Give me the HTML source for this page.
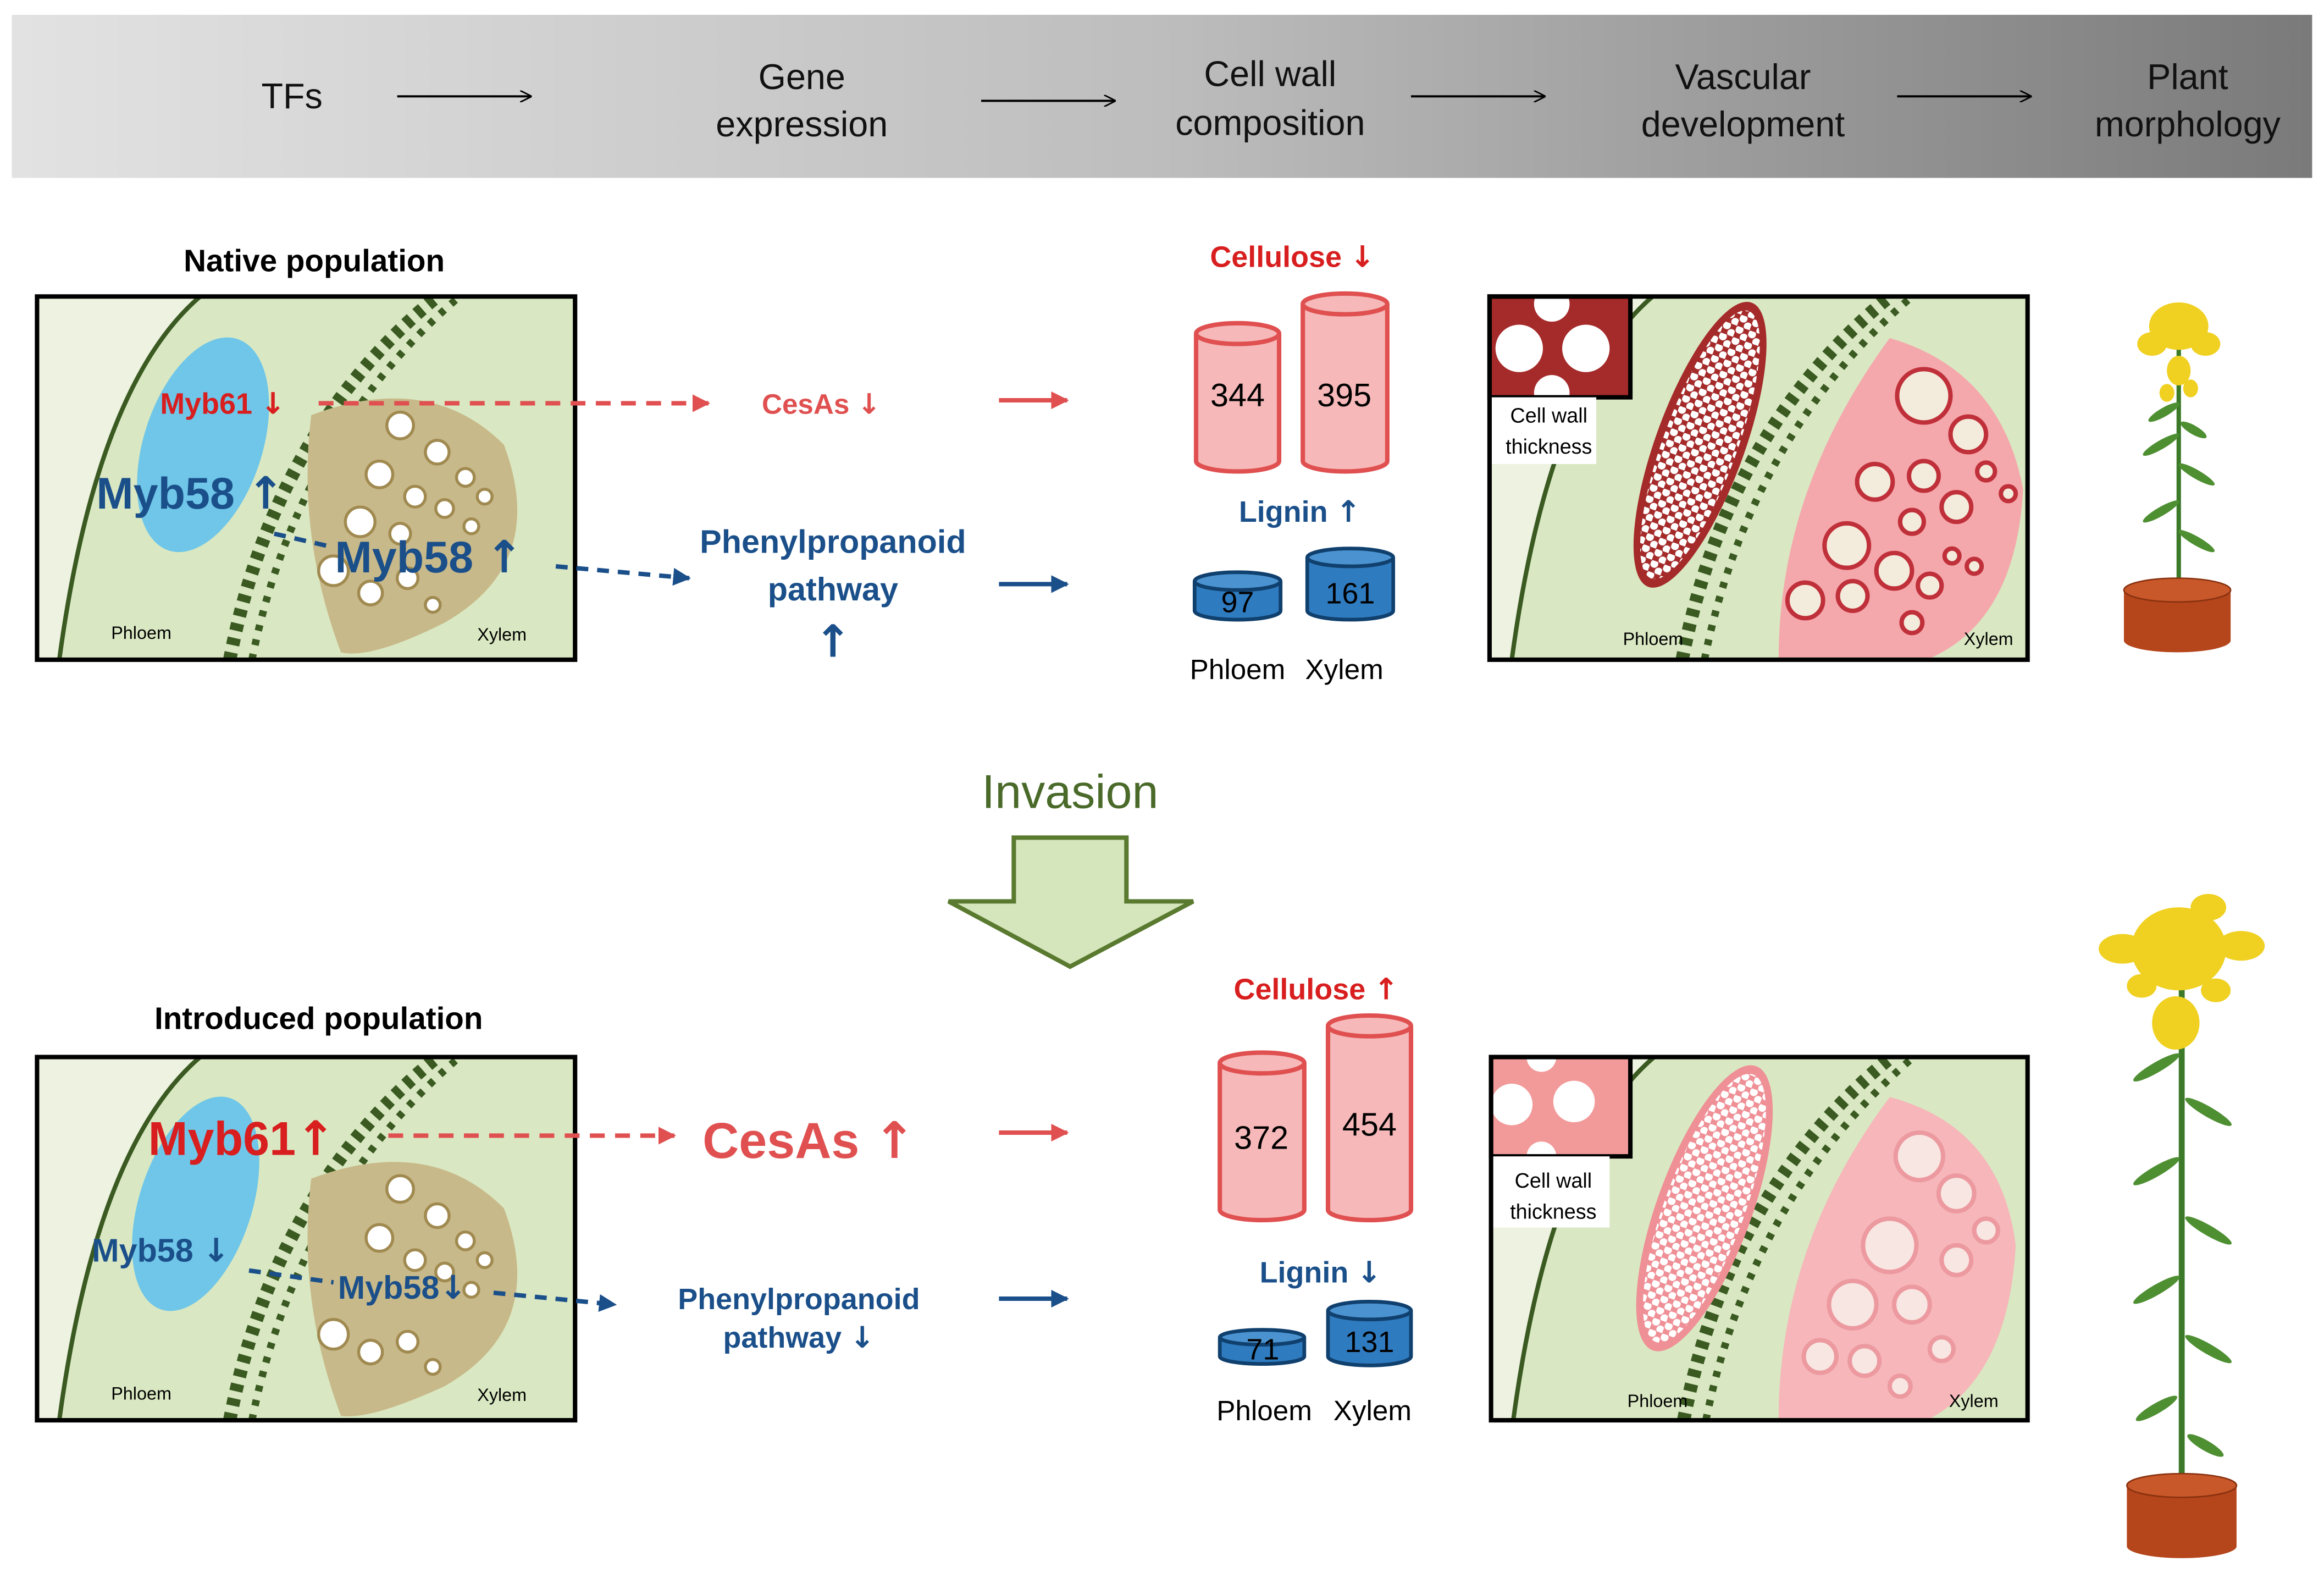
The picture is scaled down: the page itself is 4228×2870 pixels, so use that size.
<!DOCTYPE html>
<html><head><meta charset="utf-8"><style>
html,body{margin:0;padding:0;background:#fff;}
svg{display:block;}
text{font-family:"Liberation Sans",sans-serif;}
.ar{font-family:"DejaVu Sans",sans-serif;font-weight:bold;}
</style></head><body>
<svg width="4228" height="2870" viewBox="0 0 1568 1064.4" preserveAspectRatio="none" xmlns="http://www.w3.org/2000/svg">
<defs>
<linearGradient id="bn" x1="0" x2="1" y1="0" y2="0"><stop offset="0" stop-color="#e2e2e2"/><stop offset="0.5" stop-color="#bdbdbd"/><stop offset="1" stop-color="#7a7a7a"/></linearGradient>
<pattern id="dots" width="9" height="8" patternUnits="userSpaceOnUse"><circle cx="2.5" cy="2" r="2.7" fill="#fff"/><circle cx="7" cy="6" r="2.7" fill="#fff"/></pattern>
<marker id="ak" viewBox="0 0 10 10" refX="9" refY="5" markerWidth="8" markerHeight="8" orient="auto" markerUnits="userSpaceOnUse"><path d="M0,0 L10,5 L0,10" fill="none" stroke="#000" stroke-width="1.3"/></marker>
<marker id="ar" viewBox="0 0 10 10" refX="9" refY="5" markerWidth="12" markerHeight="12" orient="auto" markerUnits="userSpaceOnUse"><path d="M0,0 L10,5 L0,10z" fill="#e05050"/></marker>
<marker id="ab" viewBox="0 0 10 10" refX="9" refY="5" markerWidth="12" markerHeight="12" orient="auto" markerUnits="userSpaceOnUse"><path d="M0,0 L10,5 L0,10z" fill="#1a4f8a"/></marker>
<clipPath id="c1"><rect x="25" y="200" width="363" height="245"/></clipPath>
<clipPath id="c2"><rect x="25" y="713" width="363" height="245"/></clipPath>
<clipPath id="c3"><rect x="1005" y="200" width="363" height="245"/></clipPath>
<clipPath id="c4"><rect x="1006" y="713" width="362" height="245"/></clipPath>
<g id="tissue">
<rect x="0" y="0" width="363" height="245" fill="#eef2e0"/>
<path d="M15,245 Q40,60 110,0 L363,0 L363,245z" fill="#d9e8c2"/>
<path d="M15,245 Q40,60 110,0" fill="none" stroke="#3a5a22" stroke-width="3"/>
<path d="M130,245 Q160,90 270,0" fill="none" stroke="#3a5a22" stroke-width="9" stroke-dasharray="5,5"/>
<path d="M145,245 Q175,95 285,0" fill="none" stroke="#3a5a22" stroke-width="5" stroke-dasharray="4,6"/>
</g>
</defs>
<rect x="8" y="10" width="1552" height="110" fill="url(#bn)"/>
<g font-size="24" text-anchor="middle" fill="#111">
<text x="197" y="73">TFs</text>
<text x="541" y="60">Gene</text><text x="541" y="92">expression</text>
<text x="857" y="58">Cell wall</text><text x="857" y="91">composition</text>
<text x="1176" y="60">Vascular</text><text x="1176" y="92">development</text>
<text x="1476" y="60">Plant</text><text x="1476" y="92">morphology</text>
</g>
<g stroke="#000" stroke-width="1.5" marker-end="url(#ak)">
<line x1="268" y1="65" x2="358" y2="65"/><line x1="662" y1="68" x2="752" y2="68"/><line x1="952" y1="65" x2="1042" y2="65"/><line x1="1280" y1="65" x2="1370" y2="65"/>
</g>

<!-- Native -->
<text x="212" y="183" font-size="21" font-weight="bold" text-anchor="middle">Native population</text>
<g clip-path="url(#c1)"><use href="#tissue" x="25" y="200"/>
<ellipse cx="137" cy="300" rx="40" ry="75" transform="rotate(18 137 300)" fill="#6fc6e8"/>
<path d="M210,280 Q290,250 340,300 Q370,380 300,420 Q250,445 230,440 Q200,360 210,280z" fill="#c8b98a"/>
<g fill="#fff" stroke="#a08a50" stroke-width="2"><circle cx="270" cy="287" r="9"/><circle cx="295" cy="305" r="8"/><circle cx="256" cy="320" r="9"/><circle cx="280" cy="335" r="7"/><circle cx="243" cy="352" r="10"/><circle cx="270" cy="360" r="7"/><circle cx="300" cy="343" r="6"/><circle cx="314" cy="322" r="6"/><circle cx="225" cy="385" r="10"/><circle cx="250" cy="400" r="8"/><circle cx="275" cy="390" r="7"/><circle cx="292" cy="408" r="5"/><circle cx="318" cy="355" r="5"/><circle cx="327" cy="335" r="5"/></g>
</g>
<rect x="25" y="200" width="363" height="245" fill="none" stroke="#000" stroke-width="3"/>
<text x="108" y="279" font-size="20" font-weight="bold" fill="#d81e1e">Myb61 <tspan class="ar">↓</tspan></text>
<text x="65" y="343" font-size="30" font-weight="bold" fill="#1a4f8a">Myb58 <tspan class="ar">↑</tspan></text>
<text x="226" y="386" font-size="30" font-weight="bold" fill="#1a4f8a">Myb58 <tspan class="ar">↑</tspan></text>
<text x="75" y="431" font-size="12">Phloem</text><text x="322" y="432" font-size="12">Xylem</text>
<line x1="215" y1="272" x2="478" y2="272" stroke="#e05050" stroke-width="3" stroke-dasharray="10,7" marker-end="url(#ar)"/>
<line x1="185" y1="360" x2="220" y2="368" stroke="#1a4f8a" stroke-width="3" stroke-dasharray="8,6"/>
<line x1="375" y1="382" x2="465" y2="390" stroke="#1a4f8a" stroke-width="3" stroke-dasharray="8,6" marker-end="url(#ab)"/>
<text x="514" y="279" font-size="19" font-weight="bold" fill="#e05050">CesAs <tspan class="ar">↓</tspan></text>
<text x="562" y="373" font-size="22" font-weight="bold" fill="#1a4f8a" text-anchor="middle">Phenylpropanoid</text>
<text x="562" y="405" font-size="22" font-weight="bold" fill="#1a4f8a" text-anchor="middle">pathway</text>
<text x="562" y="443" font-size="30" fill="#1a4f8a" text-anchor="middle" class="ar">↑</text>
<line x1="674" y1="270" x2="720" y2="270" stroke="#e05050" stroke-width="3" marker-end="url(#ar)"/>
<line x1="674" y1="394" x2="720" y2="394" stroke="#1a4f8a" stroke-width="3" marker-end="url(#ab)"/>
<text x="872" y="180" font-size="20" font-weight="bold" fill="#d81e1e" text-anchor="middle">Cellulose <tspan class="ar">↓</tspan></text>
<g fill="#f6b8b8" stroke="#e05050" stroke-width="3">
<path d="M807,225 V311 A28,7 0 0 0 863,311 V225"/><ellipse cx="835" cy="225" rx="28" ry="7"/>
<path d="M879,205 V311 A28.5,7 0 0 0 936,311 V205"/><ellipse cx="907.5" cy="205" rx="28.5" ry="7"/>
</g>
<text x="835" y="274" font-size="22" text-anchor="middle">344</text><text x="907" y="274" font-size="22" text-anchor="middle">395</text>
<text x="877" y="352" font-size="20" font-weight="bold" fill="#1a4f8a" text-anchor="middle">Lignin <tspan class="ar">↑</tspan></text>
<g fill="#2f7bbf" stroke="#10406e" stroke-width="2.5">
<path d="M806,392 V412 A29,6 0 0 0 864,412 V392"/><ellipse cx="835" cy="392" rx="29" ry="6" fill="#4b93d0"/>
<path d="M882,376 V412 A29,6 0 0 0 940,412 V376"/><ellipse cx="911" cy="376" rx="29" ry="6" fill="#4b93d0"/>
</g>
<text x="835" y="413" font-size="20" text-anchor="middle">97</text><text x="911" y="407" font-size="20" text-anchor="middle">161</text>
<text x="835" y="458" font-size="19" text-anchor="middle">Phloem</text><text x="907" y="458" font-size="19" text-anchor="middle">Xylem</text>

<g clip-path="url(#c3)"><use href="#tissue" x="1005" y="200"/>
<ellipse cx="1147" cy="300" rx="30" ry="102" transform="rotate(20 1147 300)" fill="#a52a2a"/>
<ellipse cx="1147" cy="300" rx="25" ry="96" transform="rotate(20 1147 300)" fill="url(#dots)"/>
<path d="M1275,228 Q1350,250 1365,330 Q1360,420 1300,445 L1200,445 Q1200,330 1275,228z" fill="#f4a8ac"/>
<g fill="#f3ecdc" stroke="#c0303a" stroke-width="3"><circle cx="1298" cy="267" r="18"/><circle cx="1328" cy="293" r="12"/><circle cx="1298" cy="321" r="10"/><circle cx="1265" cy="325" r="12"/><circle cx="1246" cy="368" r="15"/><circle cx="1278" cy="385" r="12"/><circle cx="1218" cy="405" r="12"/><circle cx="1250" cy="402" r="10"/><circle cx="1320" cy="342" r="10"/><circle cx="1290" cy="352" r="8"/><circle cx="1302" cy="395" r="8"/><circle cx="1290" cy="420" r="7"/><circle cx="1340" cy="318" r="6"/><circle cx="1355" cy="333" r="5"/><circle cx="1317" cy="375" r="5"/><circle cx="1332" cy="382" r="5"/></g>
</g>
<rect x="1005" y="200" width="95" height="68" fill="#a52a2a"/>
<g fill="#fff"><circle cx="1025" cy="235" r="16"/><circle cx="1070" cy="235" r="16"/><circle cx="1047" cy="205" r="12"/><circle cx="1047" cy="265" r="12"/></g>
<rect x="1005" y="200" width="95" height="68" fill="none" stroke="#000" stroke-width="3"/>
<rect x="1005" y="268" width="72" height="45" fill="#fff"/>
<rect x="1005" y="200" width="363" height="245" fill="none" stroke="#000" stroke-width="3"/>
<text x="1045" y="285" font-size="14" text-anchor="middle">Cell wall</text><text x="1045" y="306" font-size="14" text-anchor="middle">thickness</text>
<text x="1095" y="435" font-size="12">Phloem</text><text x="1325" y="435" font-size="12">Xylem</text>

<!-- plant small -->
<g>
<line x1="1470" y1="395" x2="1470" y2="215" stroke="#3c7a2a" stroke-width="3"/>
<g fill="#4e8f32"><ellipse cx="1458" cy="300" rx="14" ry="3" transform="rotate(-30 1458 300)"/><ellipse cx="1482" cy="320" rx="14" ry="3" transform="rotate(30 1482 320)"/><ellipse cx="1458" cy="345" rx="14" ry="3" transform="rotate(-30 1458 345)"/><ellipse cx="1482" cy="365" rx="14" ry="3" transform="rotate(30 1482 365)"/><ellipse cx="1460" cy="278" rx="12" ry="3" transform="rotate(-30 1460 278)"/><ellipse cx="1480" cy="290" rx="10" ry="3" transform="rotate(30 1480 290)"/></g>
<g fill="#f0d020"><ellipse cx="1470" cy="220" rx="20" ry="16"/><ellipse cx="1452" cy="232" rx="10" ry="8"/><ellipse cx="1488" cy="232" rx="10" ry="8"/><ellipse cx="1470" cy="250" rx="8" ry="10"/><ellipse cx="1462" cy="265" rx="5" ry="6"/><ellipse cx="1478" cy="262" rx="5" ry="6"/></g>
<path d="M1433,398 V432 A36,8 0 0 0 1505,432 V398z" fill="#b5451b"/><ellipse cx="1469" cy="398" rx="36" ry="8" fill="#c8582a" stroke="#8a3210"/>
</g>

<!-- Invasion -->
<text x="722" y="545" font-size="32" fill="#4a6a2a" text-anchor="middle">Invasion</text>
<path d="M684,565 H760 V608 H805 L722,652 L640,608 H684z" fill="#d6e6bc" stroke="#5a7a30" stroke-width="3"/>

<!-- Introduced -->
<text x="215" y="694" font-size="21" font-weight="bold" text-anchor="middle">Introduced population</text>
<g clip-path="url(#c2)"><use href="#tissue" x="25" y="713"/>
<ellipse cx="132" cy="812" rx="38" ry="75" transform="rotate(18 132 812)" fill="#6fc6e8"/>
<path d="M210,795 Q290,765 340,815 Q370,895 300,935 Q250,958 230,955 Q200,875 210,795z" fill="#c8b98a"/>
<g fill="#fff" stroke="#a08a50" stroke-width="2"><circle cx="270" cy="802" r="9"/><circle cx="295" cy="820" r="8"/><circle cx="256" cy="835" r="9"/><circle cx="280" cy="850" r="7"/><circle cx="300" cy="858" r="6"/><circle cx="314" cy="837" r="6"/><circle cx="225" cy="900" r="10"/><circle cx="250" cy="912" r="8"/><circle cx="275" cy="905" r="7"/><circle cx="292" cy="922" r="5"/><circle cx="318" cy="870" r="5"/><circle cx="327" cy="850" r="5"/></g>
</g>
<rect x="25" y="713" width="363" height="245" fill="none" stroke="#000" stroke-width="3"/>
<text x="100" y="779" font-size="32" font-weight="bold" fill="#d81e1e">Myb61<tspan class="ar">↑</tspan></text>
<text x="62" y="851" font-size="22" font-weight="bold" fill="#1a4f8a">Myb58 <tspan class="ar">↓</tspan></text>
<text x="228" y="876" font-size="22" font-weight="bold" fill="#1a4f8a">Myb58<tspan class="ar">↓</tspan></text>
<text x="75" y="944" font-size="12">Phloem</text><text x="322" y="945" font-size="12">Xylem</text>
<line x1="262" y1="766" x2="455" y2="766" stroke="#e05050" stroke-width="3" stroke-dasharray="10,7" marker-end="url(#ar)"/>
<line x1="168" y1="857" x2="225" y2="865" stroke="#1a4f8a" stroke-width="3" stroke-dasharray="8,6"/>
<line x1="333" y1="872" x2="415" y2="880" stroke="#1a4f8a" stroke-width="3" stroke-dasharray="8,6" marker-end="url(#ab)"/>
<text x="474" y="781" font-size="34" font-weight="bold" fill="#e05050">CesAs <tspan class="ar">↑</tspan></text>
<text x="539" y="883" font-size="20" font-weight="bold" fill="#1a4f8a" text-anchor="middle">Phenylpropanoid</text>
<text x="539" y="909" font-size="20" font-weight="bold" fill="#1a4f8a" text-anchor="middle">pathway <tspan class="ar">↓</tspan></text>
<line x1="674" y1="764" x2="720" y2="764" stroke="#e05050" stroke-width="3" marker-end="url(#ar)"/>
<line x1="674" y1="876" x2="720" y2="876" stroke="#1a4f8a" stroke-width="3" marker-end="url(#ab)"/>
<text x="888" y="674" font-size="20" font-weight="bold" fill="#d81e1e" text-anchor="middle">Cellulose <tspan class="ar">↑</tspan></text>
<g fill="#f6b8b8" stroke="#e05050" stroke-width="3">
<path d="M823,717 V816 A28.5,7 0 0 0 880,816 V717"/><ellipse cx="851.5" cy="717" rx="28.5" ry="7"/>
<path d="M896,692 V816 A28,7 0 0 0 952,816 V692"/><ellipse cx="924" cy="692" rx="28" ry="7"/>
</g>
<text x="851" y="775" font-size="22" text-anchor="middle">372</text><text x="924" y="766" font-size="22" text-anchor="middle">454</text>
<text x="891" y="865" font-size="20" font-weight="bold" fill="#1a4f8a" text-anchor="middle">Lignin <tspan class="ar">↓</tspan></text>
<g fill="#2f7bbf" stroke="#10406e" stroke-width="2.5">
<path d="M823,902 V915 A28.5,5 0 0 0 880,915 V902"/><ellipse cx="851.5" cy="902" rx="28.5" ry="5" fill="#4b93d0"/>
<path d="M896,884 V915 A28,6 0 0 0 952,915 V884"/><ellipse cx="924" cy="884" rx="28" ry="6" fill="#4b93d0"/>
</g>
<text x="852" y="917" font-size="20" text-anchor="middle">71</text><text x="924" y="912" font-size="20" text-anchor="middle">131</text>
<text x="853" y="958" font-size="19" text-anchor="middle">Phloem</text><text x="926" y="958" font-size="19" text-anchor="middle">Xylem</text>

<g clip-path="url(#c4)"><use href="#tissue" x="1006" y="713"/>
<ellipse cx="1150" cy="815" rx="32" ry="102" transform="rotate(20 1150 815)" fill="#ef8f96"/>
<ellipse cx="1150" cy="815" rx="27" ry="96" transform="rotate(20 1150 815)" fill="url(#dots)"/>
<path d="M1275,740 Q1350,760 1360,840 Q1355,930 1300,958 L1200,958 Q1200,840 1275,740z" fill="#f6b6ba"/>
<g fill="#f8e6e2" stroke="#ec9aa0" stroke-width="3"><circle cx="1295" cy="780" r="16"/><circle cx="1320" cy="805" r="12"/><circle cx="1275" cy="840" r="18"/><circle cx="1250" cy="880" r="16"/><circle cx="1290" cy="880" r="12"/><circle cx="1228" cy="915" r="11"/><circle cx="1258" cy="918" r="10"/><circle cx="1320" cy="850" r="10"/><circle cx="1340" cy="830" r="8"/><circle cx="1310" cy="910" r="8"/><circle cx="1282" cy="935" r="7"/></g>
</g>
<rect x="1006" y="713" width="94" height="67" fill="#f29a9a"/>
<g fill="#fff"><circle cx="1020" cy="745" r="14"/><circle cx="1062" cy="743" r="14"/><circle cx="1040" cy="713" r="10"/><circle cx="1040" cy="780" r="10"/></g>
<rect x="1006" y="713" width="94" height="67" fill="none" stroke="#000" stroke-width="3"/>
<rect x="1006" y="780" width="80" height="48" fill="#fff"/>
<rect x="1006" y="713" width="362" height="245" fill="none" stroke="#000" stroke-width="3"/>
<text x="1048" y="801" font-size="14" text-anchor="middle">Cell wall</text><text x="1048" y="822" font-size="14" text-anchor="middle">thickness</text>
<text x="1098" y="949" font-size="12">Phloem</text><text x="1315" y="949" font-size="12">Xylem</text>

<!-- tall plant -->
<g>
<line x1="1472" y1="1005" x2="1472" y2="615" stroke="#3c7a2a" stroke-width="4"/>
<g fill="#4e8f32"><ellipse cx="1455" cy="720" rx="18" ry="3.5" transform="rotate(-30 1455 720)"/><ellipse cx="1490" cy="750" rx="18" ry="3.5" transform="rotate(30 1490 750)"/><ellipse cx="1455" cy="790" rx="18" ry="3.5" transform="rotate(-30 1455 790)"/><ellipse cx="1490" cy="830" rx="18" ry="3.5" transform="rotate(30 1490 830)"/><ellipse cx="1455" cy="870" rx="18" ry="3.5" transform="rotate(-30 1455 870)"/><ellipse cx="1490" cy="910" rx="18" ry="3.5" transform="rotate(30 1490 910)"/><ellipse cx="1455" cy="950" rx="16" ry="3.5" transform="rotate(-30 1455 950)"/><ellipse cx="1488" cy="975" rx="14" ry="3.5" transform="rotate(30 1488 975)"/></g>
<g fill="#f0d020"><ellipse cx="1470" cy="640" rx="32" ry="28"/><ellipse cx="1432" cy="640" rx="16" ry="10"/><ellipse cx="1512" cy="638" rx="16" ry="10"/><ellipse cx="1468" cy="690" rx="16" ry="18"/><ellipse cx="1490" cy="612" rx="12" ry="9"/><ellipse cx="1445" cy="665" rx="10" ry="8"/><ellipse cx="1495" cy="668" rx="10" ry="8"/></g>
<path d="M1435,1002 V1043 A37,8 0 0 0 1509,1043 V1002z" fill="#b5451b"/><ellipse cx="1472" cy="1002" rx="37" ry="8" fill="#c8582a" stroke="#8a3210"/>
</g>
</svg>
</body></html>
